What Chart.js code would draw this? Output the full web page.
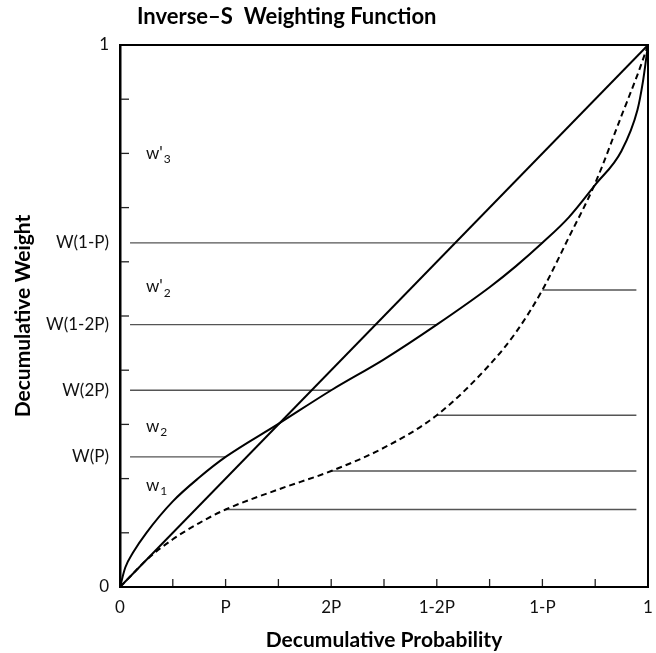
<!DOCTYPE html>
<html>
<head>
<meta charset="utf-8">
<script src="https://cdn.jsdelivr.net/npm/chart.js@4.4.1/dist/chart.umd.min.js"></script>
<style>
html, body { margin: 0; padding: 0; background: #fff; }
#wrap { width: 656px; height: 653px; }
</style>
</head>
<body>
<div id="wrap"><canvas id="weightChart"></canvas></div>
<script>
// values
var chartTitle = 'Inverse\u2013S  Weighting Function';
var probs  = [0, 0.01, 0.025, 0.05, 0.1, 0.15, 0.2, 0.3, 0.4, 0.5, 0.6, 0.7, 0.75, 0.8, 0.85, 0.9, 0.95, 0.98, 0.99, 1];
var invS   = [0, 0.036, 0.064, 0.1, 0.158, 0.202, 0.24, 0.301, 0.363, 0.42, 0.484, 0.553, 0.592, 0.635, 0.682, 0.742, 0.805, 0.88, 0.93, 1];
var dashed = [0, 0.01, 0.025, 0.05, 0.088, 0.118, 0.143, 0.18, 0.214, 0.257, 0.317, 0.41, 0.47, 0.548, 0.645, 0.745, 0.87, 0.945, 0.972, 1];

var xTickValues = [0, 0.2, 0.4, 0.6, 0.8, 1];
var xTickNames  = ['0', 'P', '2P', '1-2P', '1-P', '1'];
var minorTicks  = [0.1, 0.2, 0.3, 0.4, 0.5, 0.6, 0.7, 0.8, 0.9];

var markProbs = [0.2, 0.4, 0.6, 0.8];
var markNames = ['W(P)', 'W(2P)', 'W(1-2P)', 'W(1-P)'];

var regionNames  = ['w', 'w', "w'", "w'"];
var regionSubs   = ['1', '2', '2', '3'];
var regionLevels = [0.188, 0.296, 0.554, 0.8];

function weightAt(arr, p) {
    return arr[probs.indexOf(p)];
}
function toPoints(xs, ys) {
    return xs.map(function(x, i) { return { x: x, y: ys[i] }; });
}

var leftStart = 0.019;
var rightEnd = 0.978;

var datasets = [
    { data: [{ x: 0, y: 0 }, { x: 1, y: 1 }], borderColor: '#000', borderWidth: 2 },
    { data: toPoints(probs, invS), borderColor: '#000', borderWidth: 2, cubicInterpolationMode: 'monotone' },
    { data: toPoints(probs, dashed), borderColor: '#000', borderWidth: 2, borderDash: [6, 4], cubicInterpolationMode: 'monotone' }
];
markProbs.forEach(function(p) {
    var w = weightAt(invS, p);
    datasets.push({ data: [{ x: leftStart, y: w }, { x: p, y: w }], borderColor: '#555', borderWidth: 1.4 });
    var d = weightAt(dashed, p);
    datasets.push({ data: [{ x: p, y: d }, { x: rightEnd, y: d }], borderColor: '#555', borderWidth: 1.4 });
});

var yTickValues = [0].concat(markProbs.map(function(p) { return weightAt(invS, p); }), [1]);
var yTickNames = ['0'].concat(markNames, ['1']);

// ticks inside the frame, the frame itself, region labels and title
var framePlugin = {
    id: 'frame',
    afterDraw: function(chart) {
        var ctx = chart.ctx, a = chart.chartArea;
        var xs = chart.scales.x, ys = chart.scales.y;
        ctx.save();
        ctx.strokeStyle = '#222';
        ctx.lineWidth = 1.3;
        minorTicks.forEach(function(v) {
            var px = xs.getPixelForValue(v);
            ctx.beginPath(); ctx.moveTo(px, a.bottom); ctx.lineTo(px, a.bottom - 8); ctx.stroke();
            var py = ys.getPixelForValue(v);
            ctx.beginPath(); ctx.moveTo(a.left, py); ctx.lineTo(a.left + 9, py); ctx.stroke();
        });
        ctx.strokeStyle = '#000';
        ctx.lineWidth = 2;
        ctx.strokeRect(a.left, a.top, a.right - a.left, a.bottom - a.top);

        ctx.fillStyle = '#111';
        ctx.textBaseline = 'middle';
        ctx.textAlign = 'left';
        regionNames.forEach(function(n, i) {
            var py = ys.getPixelForValue(regionLevels[i]);
            var x0 = a.left + 26;
            ctx.font = '17px Lato';
            ctx.fillText(n, x0, py);
            var w = ctx.measureText(n).width;
            ctx.font = '12px Lato';
            ctx.fillText(regionSubs[i], x0 + w + 1, py + 6);
        });

        ctx.font = 'bold 22px Lato';
        ctx.textBaseline = 'alphabetic';
        ctx.fillStyle = '#000';
        ctx.fillText(chartTitle, 137, 24);
        ctx.restore();
    }
};

var ctx = document.getElementById('weightChart').getContext('2d');
var weightChart = new Chart(ctx, {
    type: 'line',
    data: { datasets: datasets },
    plugins: [framePlugin],
    options: {
        responsive: true,
        maintainAspectRatio: false,
        animation: false,
        layout: { padding: { top: 45, right: 8, left: 0, bottom: 0 } },
        elements: { point: { radius: 0 }, line: { fill: false } },
        plugins: {
            legend: { display: false },
            tooltip: { enabled: false }
        },
        scales: {
            x: {
                type: 'linear',
                min: 0,
                max: 1,
                afterFit: function(s) {
                    s.height = 66;
                    s.paddingRight = 0;
                    s.paddingLeft = 0;
                },
                afterBuildTicks: function(s) {
                    s.ticks = xTickValues.map(function(v) { return { value: v }; });
                },
                grid: { display: false, drawTicks: false },
                border: { display: true, color: '#000', width: 2 },
                ticks: {
                    autoSkip: false,
                    maxRotation: 0,
                    padding: 10,
                    color: '#111',
                    font: { family: 'Lato', size: 17 },
                    callback: function(value, index) { return xTickNames[index]; }
                },
                title: {
                    display: true,
                    text: 'Decumulative Probability',
                    color: '#000',
                    font: { family: 'Lato', size: 21, weight: 'bold' },
                    padding: { top: 0, bottom: 0 }
                }
            },
            y: {
                type: 'linear',
                min: 0,
                max: 1,
                afterFit: function(s) { s.width = 120; },
                afterBuildTicks: function(s) {
                    s.ticks = yTickValues.map(function(v) { return { value: v }; });
                },
                grid: { display: false, drawTicks: false },
                border: { display: true, color: '#000', width: 2.5 },
                ticks: {
                    autoSkip: false,
                    padding: 11,
                    color: '#111',
                    font: { family: 'Lato', size: 17 },
                    callback: function(value, index) { return yTickNames[index]; }
                },
                title: {
                    display: true,
                    text: 'Decumulative Weight',
                    color: '#000',
                    font: { family: 'Lato', size: 21, weight: 'bold' },
                    padding: { top: 11, bottom: 0 }
                }
            }
        }
    }
});
</script>
</body>
</html>
